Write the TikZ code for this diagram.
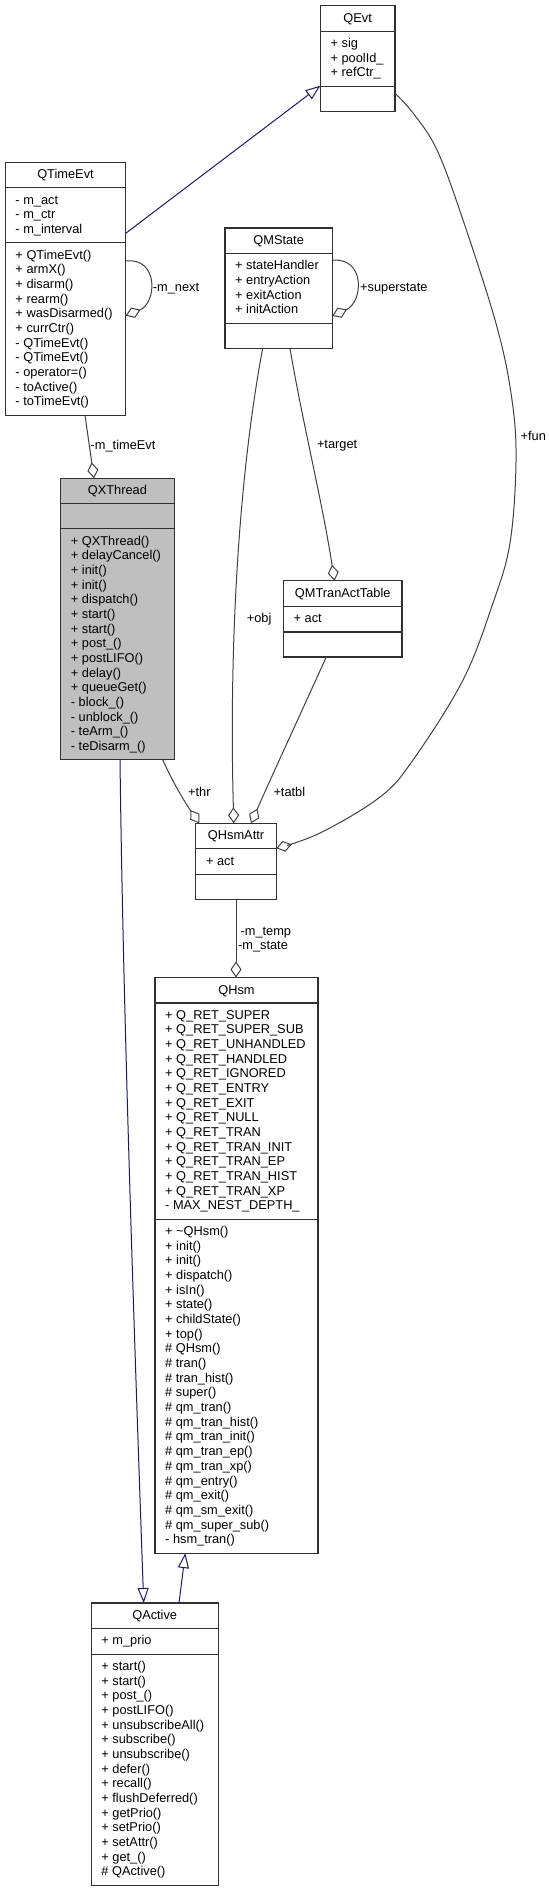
\documentclass[tikz,border=0pt]{standalone}
\usepackage{fontspec}
\setmainfont{Liberation Sans}
\usetikzlibrary{arrows.meta,calc}
\definecolor{edgegray}{HTML}{404040}
\definecolor{inhblue}{HTML}{191970}
\definecolor{boxborder}{HTML}{303030}
\definecolor{boxfill}{HTML}{BFBFBF}
\begin{document}
\begin{tikzpicture}[x=1pt,y=-1pt,
  cls/.style={draw=boxborder, line width=1.2pt, fill=white, rectangle, inner sep=0pt, outer sep=0pt, anchor=north west},
  sepline/.style={draw=boxborder, line width=1.2pt},
  txt/.style={inner sep=0pt, font=\fontsize{12.8}{14.67}\selectfont},
  mem/.style={txt, anchor=base west},
  ttl/.style={txt, anchor=base},
  lbl/.style={txt, anchor=base west},
  agg/.style={draw=edgegray, line width=1pt, -{Diamond[open,length=16pt,width=11pt]}},
  inh/.style={draw=inhblue, line width=1pt, -{Triangle[open,length=15pt,width=11pt]}},
]
\useasboundingbox (0,0) rectangle (549,1891);

% ---------- QEvt ----------
\node[cls, minimum width=74.6pt, minimum height=105.5pt] (qevt) at (320.4,5.7) {};
\draw[sepline] ($(qevt.north west)+(0,25.5)$) -- ($(qevt.north east)+(0,25.5)$);
\draw[sepline] ($(qevt.north west)+(0,80.5)$) -- ($(qevt.north east)+(0,80.5)$);
\node[ttl] (qevtt) at (357.7,22.2) {QEvt};
\foreach \t [count=\i from 0] in {+ sig, + poolId\_, + refCtr\_}
  \node[mem] (qevta\i) at (330.4, 47.4+\i*14.67) {\t};

% ---------- QTimeEvt ----------
\node[cls, minimum width=120.4pt, minimum height=252.9pt] (qtimeevt) at (5.3,162.3) {};
\draw[sepline] ($(qtimeevt.north west)+(0,25.5)$) -- ($(qtimeevt.north east)+(0,25.5)$);
\draw[sepline] ($(qtimeevt.north west)+(0,80.5)$) -- ($(qtimeevt.north east)+(0,80.5)$);
\node[ttl] (qtimeevtt) at (65.5,178.8) {QTimeEvt};
\foreach \t [count=\i from 0] in {- m\_act, - m\_ctr, - m\_interval}
  \node[mem] (qtea\i) at (15.3, 204+\i*14.67) {\t};
\foreach \t [count=\i from 0] in {+ QTimeEvt(), + armX(), + disarm(), + rearm(), + wasDisarmed(), + currCtr(), - QTimeEvt(), - QTimeEvt(), - operator=(), - toActive(), - toTimeEvt()}
  \node[mem] (qtem\i) at (15.3, 259+\i*14.67) {\t};

% ---------- QMState ----------
\node[cls, minimum width=107.3pt, minimum height=120.2pt] (qmstate) at (225,228) {};
\draw[sepline] ($(qmstate.north west)+(0,25.5)$) -- ($(qmstate.north east)+(0,25.5)$);
\draw[sepline] ($(qmstate.north west)+(0,95.2)$) -- ($(qmstate.north east)+(0,95.2)$);
\node[ttl] (qmstatet) at (278.65,244.5) {QMState};
\foreach \t [count=\i from 0] in {+ stateHandler, + entryAction, + exitAction, + initAction}
  \node[mem] (qmsa\i) at (235, 269.7+\i*14.67) {\t};

% ---------- QMTranActTable ----------
\node[cls, minimum width=118.5pt, minimum height=76.2pt] (qmtran) at (283.5,580.7) {};
\draw[sepline] ($(qmtran.north west)+(0,25.5)$) -- ($(qmtran.north east)+(0,25.5)$);
\draw[sepline] ($(qmtran.north west)+(0,51.2)$) -- ($(qmtran.north east)+(0,51.2)$);
\node[ttl] (qmtrant) at (342.75,597.2) {QMTranActTable};
\node[mem] (qmtrana) at (293.5,622.4) {+ act};

% ---------- QXThread ----------
\node[cls, fill=boxfill, minimum width=113.5pt, minimum height=281.55pt] (qxthread) at (60.7,478.3) {};
\draw[sepline] ($(qxthread.north west)+(0,25.5)$) -- ($(qxthread.north east)+(0,25.5)$);
\draw[sepline] ($(qxthread.north west)+(0,50.5)$) -- ($(qxthread.north east)+(0,50.5)$);
\node[ttl] (qxthreadt) at (117.45,494.8) {QXThread};
\foreach \t [count=\i from 0] in {+ QXThread(), + delayCancel(), + init(), + init(), + dispatch(), + start(), + start(), + post\_(), + postLIFO(), + delay(), + queueGet(), - block\_(), - unblock\_(), - teArm\_(), - teDisarm\_()}
  \node[mem] (qxtm\i) at (70.7, 545+\i*14.67) {\t};

% ---------- QHsmAttr ----------
\node[cls, minimum width=80.5pt, minimum height=76.2pt] (qhsmattr) at (195.8,823.3) {};
\draw[sepline] ($(qhsmattr.north west)+(0,25.5)$) -- ($(qhsmattr.north east)+(0,25.5)$);
\draw[sepline] ($(qhsmattr.north west)+(0,51.2)$) -- ($(qhsmattr.north east)+(0,51.2)$);
\node[ttl] (qhsmattrt) at (236.05,839.8) {QHsmAttr};
\node[mem] (qhsmattra) at (205.8,865) {+ act};

% ---------- QHsm ----------
\node[cls, minimum width=163pt, minimum height=575.6pt] (qhsm) at (155,977.5) {};
\draw[sepline] ($(qhsm.north west)+(0,25.5)$) -- ($(qhsm.north east)+(0,25.5)$);
\draw[sepline] ($(qhsm.north west)+(0,241.9)$) -- ($(qhsm.north east)+(0,241.9)$);
\node[ttl] (qhsmt) at (236.5,994) {QHsm};
\foreach \t [count=\i from 0] in {+ Q\_RET\_SUPER, + Q\_RET\_SUPER\_SUB, + Q\_RET\_UNHANDLED, + Q\_RET\_HANDLED, + Q\_RET\_IGNORED, + Q\_RET\_ENTRY, + Q\_RET\_EXIT, + Q\_RET\_NULL, + Q\_RET\_TRAN, + Q\_RET\_TRAN\_INIT, + Q\_RET\_TRAN\_EP, + Q\_RET\_TRAN\_HIST, + Q\_RET\_TRAN\_XP, - MAX\_NEST\_DEPTH\_}
  \node[mem] (qhsma\i) at (165, 1019.2+\i*14.67) {\t};
\foreach \t [count=\i from 0] in {+ \textasciitilde QHsm(), + init(), + init(), + dispatch(), + isIn(), + state(), + childState(), + top(), \# QHsm(), \# tran(), \# tran\_hist(), \# super(), \# qm\_tran(), \# qm\_tran\_hist(), \# qm\_tran\_init(), \# qm\_tran\_ep(), \# qm\_tran\_xp(), \# qm\_entry(), \# qm\_exit(), \# qm\_sm\_exit(), \# qm\_super\_sub(), - hsm\_tran()}
  \node[mem] (qhsmm\i) at (165, 1235.6+\i*14.67) {\t};

% ---------- QActive ----------
\node[cls, minimum width=127pt, minimum height=282.2pt] (qactive) at (91.2,1603) {};
\draw[sepline] ($(qactive.north west)+(0,25.5)$) -- ($(qactive.north east)+(0,25.5)$);
\draw[sepline] ($(qactive.north west)+(0,51.2)$) -- ($(qactive.north east)+(0,51.2)$);
\node[ttl] (qactivet) at (154.7,1619.5) {QActive};
\node[mem] (qactivea) at (101.2,1644.7) {+ m\_prio};
\foreach \t [count=\i from 0] in {+ start(), + start(), + post\_(), + postLIFO(), + unsubscribeAll(), + subscribe(), + unsubscribe(), + defer(), + recall(), + flushDeferred(), + getPrio(), + setPrio(), + setAttr(), + get\_(), \# QActive()}
  \node[mem] (qactm\i) at (101.2, 1670.4+\i*14.67) {\t};

% ---------- connectors ----------
% inheritance
\draw[inh] ($(qtimeevt.north east)+(0,71)$) -- ($(qevt.north west)+(0,80)$);
\draw[inh] ($(qxthread.south west)+(59.3,0)$) .. controls (123,1000) and (133,1300) .. ($(qactive.north west)+(52.5,0)$);
\draw[inh] ($(qactive.north west)+(87.8,0)$) -- ($(qhsm.south west)+(30.3,0)$);

% self loops
\draw[agg] ($(qtimeevt.north east)+(0,98.7)$) .. controls (159,257) and (157,303) .. ($(qtimeevt.north east)+(0,153.4)$);
\node[lbl] (lnext) at (152.7,291.5) {-m\_next};
\draw[agg] ($(qmstate.north east)+(0,32.3)$) .. controls (365.5,257) and (363.5,302) .. ($(qmstate.north east)+(0,88)$);
\node[lbl] (lsuper) at (360,291.2) {+superstate};

% fun
\coordinate (funstart) at ($(qevt.north east)+(0,87.6)$);
\coordinate (funend) at ($(qhsmattr.north east)+(0,25)$);
\draw[agg] plot[smooth, tension=0.6] coordinates {(funstart) (413,113) (437,150) (463,220) (497,327) (512,400) (516,462) (510,543) (493,603) (463,680) (413,760) (380,797) (320,833) (funend)};
\node[lbl] (lfun) at (520.5,440.5) {+fun};

% m_timeEvt
\draw[agg] ($(qtimeevt.south west)+(79.7,0)$) -- ($(qxthread.north west)+(33.3,0)$);
\node[lbl] (ltimeevt) at (90.5,449.5) {-m\_timeEvt};

% target
\draw[agg] ($(qmstate.south west)+(65,0)$) .. controls (302,420) and (322,500) .. ($(qmtran.north west)+(51,0)$);
\node[lbl] (ltarget) at (316.8,448.5) {+target};

% obj
\draw[agg] ($(qmstate.south west)+(37.7,0)$) .. controls (238,480) and (229,650) .. ($(qhsmattr.north west)+(38,0)$);
\node[lbl] (lobj) at (246.7,622.5) {+obj};

% thr
\draw[agg] ($(qxthread.south east)+(-11.5,0)$) .. controls (172,780) and (182,798) .. ($(qhsmattr.north west)+(3.5,0)$);
\node[lbl] (lthr) at (188,796) {+thr};

% tatbl
\draw[agg] ($(qmtran.south west)+(42.8,0)$) .. controls (300,715) and (270,780) .. ($(qhsmattr.north west)+(55.2,0)$);
\node[lbl] (ltatbl) at (273.3,796) {+tatbl};

% m_temp / m_state
\draw[agg] ($(qhsmattr.south west)+(40.2,0)$) -- ($(qhsm.north west)+(81,0)$);
\node[lbl] (ltemp) at (240.4,935.2) {-m\_temp};
\node[lbl] (lstate) at (237.9,949.5) {-m\_state};
\end{tikzpicture}
\end{document}
